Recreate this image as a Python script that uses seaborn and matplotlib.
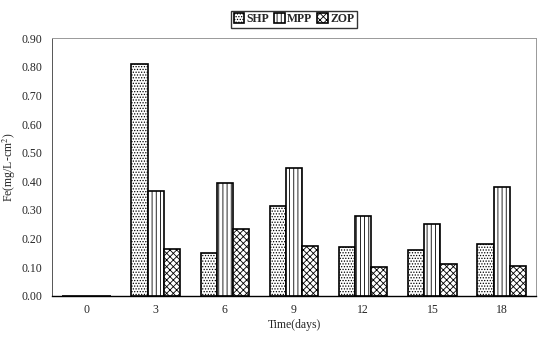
import matplotlib
matplotlib.use("Agg")
import matplotlib.pyplot as plt
import seaborn as sns
import pandas as pd

days = ["0", "3", "6", "9", "12", "15", "18"]
shp = [0.0, 0.81, 0.15, 0.315, 0.17, 0.16, 0.18]
mpp = [0.0, 0.365, 0.395, 0.445, 0.28, 0.25, 0.38]
zop = [0.0, 0.165, 0.235, 0.175, 0.10, 0.11, 0.105]
series = ["SHP", "MPP", "ZOP"]
yticks = [0.0, 0.1, 0.2, 0.3, 0.4, 0.5, 0.6, 0.7, 0.8, 0.9]

rows = []
for name, vals in zip(series, [shp, mpp, zop]):
    for d, v in zip(days, vals):
        rows.append({"day": d, "series": name, "fe": v})
df = pd.DataFrame(rows)

sns.set_style("white")
plt.rcParams["font.family"] = ["Liberation Serif", "DejaVu Serif"]
plt.rcParams["hatch.linewidth"] = 0.6
plt.rcParams["mathtext.fontset"] = "stix"

fig = plt.figure(figsize=(5.4, 3.37), dpi=100)
ax = fig.add_axes([0.096, 0.122, 0.897, 0.765])

sns.barplot(data=df, x="day", y="fe", hue="series", order=days, hue_order=series,
            width=0.7, ax=ax, errorbar=None, dodge=True,
            palette=["white", "white", "white"], edgecolor="black", linewidth=1.2,
            saturation=1)

hatches = ["......", "||||", "xxxxx"]
for cont, h in zip(ax.containers, hatches):
    for bar in cont:
        bar.set_hatch(h)
        bar.set_facecolor("white")
        bar.set_edgecolor("black")

ax.set_ylim(0, 0.9)
ax.set_yticks(yticks)
ax.set_yticklabels([f"{t:.2f}" for t in yticks])
ax.tick_params(axis="y", direction="out", length=3, width=0.6, labelsize=8.5, pad=4)
ax.tick_params(axis="x", length=0, labelsize=8.5, pad=6)
ax.set_xlabel("Time(days)", fontsize=8.5, labelpad=2)
ax.set_ylabel(r"Fe(mg/L-cm$^2$)", fontsize=8.5)
ax.yaxis.set_label_coords(-0.07, 0.5)

for side in ["top", "right"]:
    ax.spines[side].set_color("#999999")
    ax.spines[side].set_linewidth(0.7)
ax.spines["left"].set_color("#555555")
ax.spines["left"].set_linewidth(0.7)
ax.spines["bottom"].set_color("black")
ax.spines["bottom"].set_linewidth(1.0)

handles, labels = ax.get_legend_handles_labels()
for hnd, h in zip(handles, hatches):
    hnd.set_hatch(h)
    hnd.set_facecolor("white")
    hnd.set_edgecolor("black")
ax.legend(handles, labels, loc="lower center", bbox_to_anchor=(0.5, 1.04), ncol=3,
          frameon=True, fancybox=False, edgecolor="black",
          prop={"size": 8.5, "weight": "bold"},
          handlelength=0.9, handleheight=0.9, handletextpad=0.2, columnspacing=0.4,
          borderpad=0.2, borderaxespad=0)

fig.savefig("out.png", dpi=100)
